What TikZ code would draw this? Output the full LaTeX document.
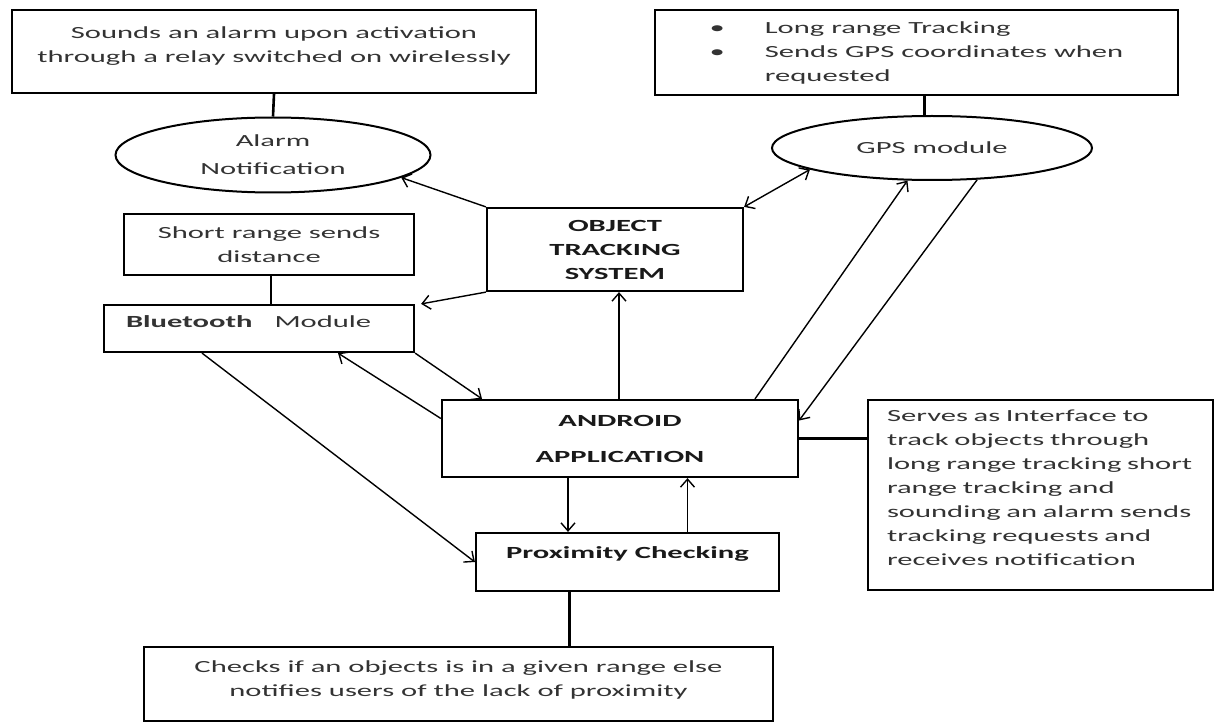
\documentclass[tikz,border=0pt]{standalone}
\usepackage{fontspec}
\setmainfont{Carlito}[FakeStretch=1.8]
\usetikzlibrary{shapes.geometric, arrows.meta, positioning}

\begin{document}
\begin{tikzpicture}[
    x=1pt, y=-1pt,
    note/.style={rectangle, draw, line width=2.2pt, inner sep=0pt, align=center, text=black!80, font={\fontsize{17}{24}\selectfont}},
    block/.style={note, text=black!90, font={\fontsize{17}{24}\selectfont\bfseries}},
    oval/.style={ellipse, draw, line width=2pt, inner sep=0pt, align=center, text=black!80, font={\fontsize{17}{28}\selectfont}},
    lift/.style={text depth=#1},
    line/.style={draw, line width=1.4pt, -{Straight Barb[length=8pt,width=14pt]}},
    both/.style={draw, line width=1.4pt, {Straight Barb[length=8pt,width=14pt]}-{Straight Barb[length=8pt,width=14pt]}},
    link/.style={draw, line width=2.6pt}
]
\useasboundingbox (0,0) rectangle (1215,722);

% descriptions
\node [note, minimum width=524pt, minimum height=83pt, lift=14pt] (alarmnote) at (274,51.5)
    {Sounds an alarm upon activation\\through a relay switched on wirelessly};
\node [note, minimum width=523pt, minimum height=85pt] (gpsnote) at (916.5,52.5)
    {\begin{tabular}{@{}l@{\hspace{40pt}}l@{}}
     \textbullet & Long range Tracking\\
     \textbullet & Sends GPS coordinates when\\
                 & requested
     \end{tabular}};
\node [note, minimum width=290pt, minimum height=61pt] (shortnote) at (269,244.5)
    {Short range sends\\distance};
\node [note, inner xsep=19pt, text width=307pt, minimum height=190pt, align=left, lift=159pt] (iface) at (1040.5,495)
    {Serves as Interface to\\track objects through\\long range tracking short\\range tracking and\\sounding an alarm sends\\tracking requests and\\receives notification};
\node [note, minimum width=629pt, minimum height=74pt, lift=11pt] (checknote) at (458.5,684)
    {Checks if an objects is in a given range else\\notifies users of the lack of proximity};

% modules
\node [oval, minimum width=315pt, minimum height=75pt] (alarm) at (273,155) {Alarm\\Notification};
\node [oval, minimum width=320pt, minimum height=64pt] (gps) at (932,148) {GPS module};
\node [block, minimum width=256pt, minimum height=83pt] (ots) at (615,249.5)
    {OBJECT\\TRACKING\\SYSTEM};
\node [note, inner xsep=22pt, text width=266pt, minimum height=47pt, align=left, lift=13pt] (bt) at (259,328.5)
    {\textbf{Bluetooth}\hspace{22pt}Module};
\node [block, minimum width=356pt, minimum height=77pt] (android) at (620,438.5)
    {ANDROID\\[12pt]APPLICATION};
\node [block, minimum width=303pt, minimum height=58pt, lift=18pt] (prox) at (627.5,562)
    {Proximity Checking};

% plain links
\path [link] (alarmnote.south) -- (alarm.north);
\path [link] ([xshift=8pt]gpsnote.south) -- ([xshift=8pt]gpsnote.south |- gps.north);
\path [link] ([xshift=2pt]shortnote.south) -- ([xshift=2pt]shortnote.south |- bt.north);
\path [link] (android.east) -- (android.east -| iface.west);
\path [link] ([xshift=-58pt]prox.south) -- ([xshift=-58pt]prox.south |- checknote.north);

% arrows
\path [line] (ots.north west) -- (alarm.-10);
\path [both] (ots.north east) -- (gps.190);
\path [line] (ots.south west) -- ([xshift=6pt]bt.north east);
\path [line] ([xshift=-1pt]android.north) -- ([xshift=-1pt]android.north |- ots.south);
\path [line] ([xshift=135pt]android.north) -- (gps.233);
\path [line] (gps.-35) -- ([yshift=18pt]android.east);
\path [line] ([yshift=20pt]android.west) -- ([xshift=79pt]bt.south);
\path [line] (bt.south east) -- ([xshift=-138pt]android.north);
\path [line] ([xshift=-57pt]bt.south) -- (prox.west);
\path [line] ([xshift=-52pt]android.south) -- ([xshift=-52pt]android.south |- prox.north);
\path [line] ([xshift=60pt]prox.north) -- ([xshift=60pt]prox.north |- android.south);
\end{tikzpicture}
\end{document}
